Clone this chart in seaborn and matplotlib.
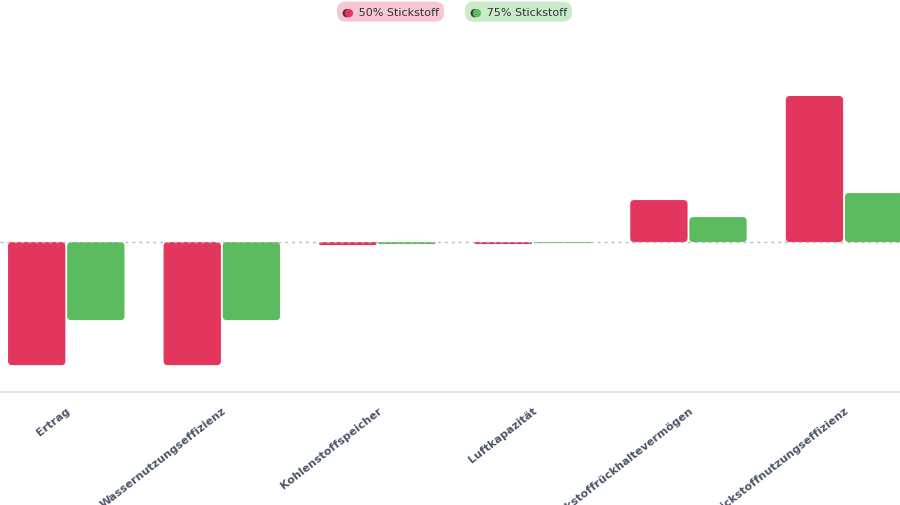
import matplotlib
matplotlib.use("Agg")
import matplotlib.pyplot as plt
import seaborn as sns
import pandas as pd
from matplotlib.patches import FancyBboxPatch

categories = ["Ertrag", "Wassernutzungseffizienz", "Kohlenstoffspeicher", "Luftkapazität",
              "Stickstoffrückhaltevermögen", "Stickstoffnutzungseffizienz"]
series_names = ["50% Stickstoff", "75% Stickstoff"]
values_50 = [-123, -123, -3, -2, 42, 146]
values_75 = [-78, -78, -2, -1, 25, 49]
colors = ["#e2365f", "#5cba5f"]

df = pd.DataFrame({
    "cat": categories * 2,
    "series": [series_names[0]] * 6 + [series_names[1]] * 6,
    "val": values_50 + values_75,
})

sns.set_theme(style="white")
plt.rcParams['font.family'] = ['DejaVu Sans']
fig = plt.figure(figsize=(9, 5.06), dpi=100)
ax = fig.add_axes([0, 0.223, 1, 0.698])
sns.barplot(data=df, x="cat", y="val", hue="series", palette=colors, width=0.76,
            gap=0.03, ax=ax, legend=False, saturation=1)

xr = 155.0
for p in list(ax.patches):
    x, y, w, h = p.get_x(), p.get_y(), p.get_width(), p.get_height()
    if w == 0:
        continue
    fc = p.get_facecolor()
    p.remove()
    r = min(4.0, abs(h) / 2) / xr
    y0 = min(y, y + h)
    ax.add_patch(FancyBboxPatch((x, y0), w, abs(h), boxstyle=f"round,pad=0,rounding_size={max(r,1e-4)}",
                                mutation_aspect=xr, facecolor=fc, edgecolor="none"))

ax.set_xlim(-0.426, 5.36)
ax.set_ylim(-150, 203)
ax.axhline(0, color="#bbbbbb", linestyle=(0, (2, 3)), linewidth=1)
for s in ["top", "right", "left"]:
    ax.spines[s].set_visible(False)
ax.spines["bottom"].set_color("#dde2e8")
ax.set_yticks([])
ax.set_xlabel("")
ax.set_ylabel("")
ax.tick_params(axis="x", length=5, color="#dde2e8", pad=4)
ax.set_xticks(range(len(categories)))
ax.set_xticklabels(categories, rotation=38, ha="right", rotation_mode="anchor",
                   fontsize=8, color="#4a5568", fontweight="semibold")

for xc, name, dot, bg in [(0.434, series_names[0], colors[0], "#f7c6d2"),
                          (0.576, series_names[1], colors[1], "#c9ebc9")]:
    fig.text(xc, 0.975, "●  " + name, ha="center", va="center", fontsize=8, color="#333333",
             bbox=dict(boxstyle="round,pad=0.45,rounding_size=0.8", fc=bg, ec="none"))
    fig.text(xc - 0.047, 0.975, "●", ha="center", va="center", fontsize=8, color=dot)
fig.savefig("out.png", dpi=100)
